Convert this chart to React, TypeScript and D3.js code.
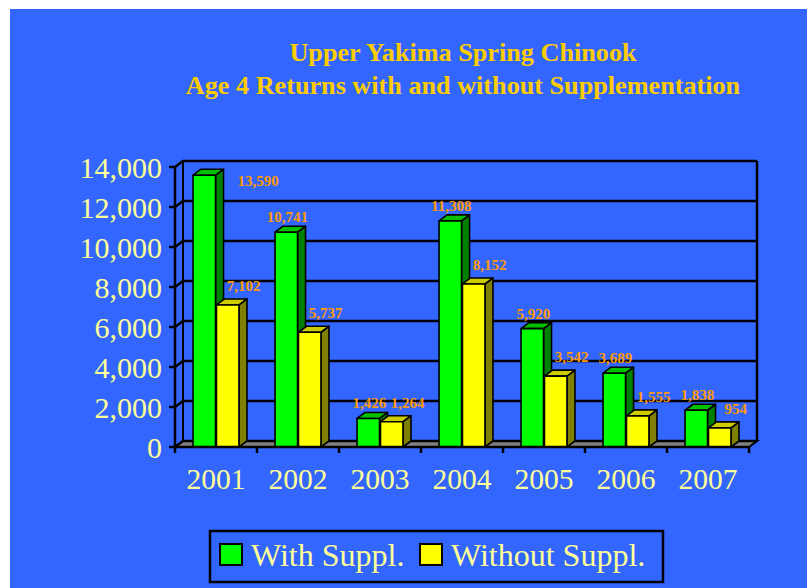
import * as d3 from 'd3';
import React from 'react';

const years = ['2001', '2002', '2003', '2004', '2005', '2006', '2007'];
const withSuppl = [13590, 10741, 1426, 11308, 5920, 3689, 1838];
const withoutSuppl = [7102, 5737, 1264, 8152, 3542, 1555, 954];
const seriesNames = ['With Suppl.', 'Without Suppl.'];
const yTicks = [0, 2000, 4000, 6000, 8000, 10000, 12000, 14000];

const W = 807;
const H = 588;
const left = 175;
const right = 749;
const base = 447;
const top = 167;
const dx = 8;
const dy = -6;
const font = 'Liberation Serif, Times New Roman, serif';

const colors = [
  { front: '#00FF00', top: '#00C000', side: '#008000' },
  { front: '#FFFF00', top: '#CCCC00', side: '#808000' },
];

export default function App() {
  const x = d3.scaleBand().domain(years).range([left, right]);
  const bw = x.bandwidth();
  const sub = d3
    .scaleBand()
    .domain(seriesNames)
    .range([bw * 0.22, bw * 0.78])
    .paddingInner(0.04);
  const y = d3.scaleLinear().domain([0, 14000]).range([base, top]);
  const fmt = d3.format(',');
  const data = [withSuppl, withoutSuppl];

  const bars: any[] = [];
  const labels: any[] = [];
  years.forEach((yr, i) => {
    data.forEach((vals, s) => {
      const v = vals[i];
      const x0 = (x(yr) || 0) + (sub(seriesNames[s]) || 0);
      const w = sub.bandwidth();
      const t = y(v);
      const c = colors[s];
      bars.push(
        <g key={yr + s} stroke="#000" strokeWidth={1.6} strokeLinejoin="round">
          <path
            d={`M${x0 + w},${t} L${x0 + w + dx},${t + dy} L${x0 + w + dx},${base + dy} L${x0 + w},${base} Z`}
            fill={c.side}
          />
          <path
            d={`M${x0},${t} L${x0 + dx},${t + dy} L${x0 + w + dx},${t + dy} L${x0 + w},${t} Z`}
            fill={c.top}
          />
          <rect x={x0} y={t} width={w} height={base - t} fill={c.front} />
        </g>
      );
      let lx = x0 + w / 2 + (s === 0 ? 1 : 16);
      let ly = t - (s === 0 ? 10 : 14);
      let anchor = 'middle';
      if (ly < top + 14) {
        // no room above: put it beside the bar
        lx = x0 + w + dx + 14;
        ly = t + 11;
        anchor = 'start';
      }
      labels.push(
        <text
          key={'l' + yr + s}
          x={lx}
          y={ly}
          textAnchor={anchor}
          fontFamily={font}
          fontWeight="bold"
          fontSize={15}
          fill="#FF9900"
        >
          {fmt(v)}
        </text>
      );
    });
  });

  return (
    <svg
      width={W}
      height={H}
      style={{ position: 'absolute', left: 0, top: 0 }}
    >
      <rect x={0} y={0} width={W} height={H} fill="#fff" />
      <rect x={10} y={9} width={W - 10} height={H - 9} fill="#3366FF" />

      <text x={463} y={61} textAnchor="middle" fontFamily={font} fontWeight="bold" fontSize={26.2} fill="#FFCC00">
        Upper Yakima Spring Chinook
      </text>
      <text x={463} y={94} textAnchor="middle" fontFamily={font} fontWeight="bold" fontSize={26.2} fill="#FFCC00">
        Age 4 Returns with and without Supplementation
      </text>

      {/* floor */}
      <path
        d={`M${left},${base} L${left + dx},${base + dy} L${right + dx},${base + dy} L${right},${base} Z`}
        fill="#808080"
        stroke="#000"
        strokeWidth={2}
      />

      {/* gridlines on side and back wall */}
      {yTicks.map((t) => (
        <path
          key={'g' + t}
          d={`M${left},${y(t)} L${left + dx},${y(t) + dy} L${right + dx},${y(t) + dy}`}
          fill="none"
          stroke="#000"
          strokeWidth={2.5}
        />
      ))}
      <line x1={left + dx} x2={left + dx} y1={top + dy} y2={base + dy} stroke="#000" strokeWidth={2} />
      <line x1={right + dx} x2={right + dx} y1={top + dy} y2={base + dy} stroke="#000" strokeWidth={2.5} />

      {bars}

      {/* front axes */}
      <line x1={left} x2={left} y1={top} y2={base} stroke="#000" strokeWidth={2.5} />
      <line x1={left} x2={right} y1={base} y2={base} stroke="#000" strokeWidth={2.5} />
      {yTicks.map((t) => (
        <g key={'yt' + t}>
          <line x1={left - 6} x2={left} y1={y(t)} y2={y(t)} stroke="#000" strokeWidth={2.5} />
          <text
            x={left - 13}
            y={y(t)}
            dy="0.35em"
            textAnchor="end"
            fontFamily={font}
            fontSize={30}
            fill="#FFFF99"
          >
            {fmt(t)}
          </text>
        </g>
      ))}
      {years.map((yr) => (
        <g key={'xt' + yr}>
          <line
            x1={x(yr) || 0}
            x2={x(yr) || 0}
            y1={base}
            y2={base + 6}
            stroke="#000"
            strokeWidth={2.5}
          />
          <text
            x={(x(yr) || 0) + bw / 2}
            y={489}
            textAnchor="middle"
            fontFamily={font}
            fontSize={29.5}
            fill="#FFFF99"
          >
            {yr}
          </text>
        </g>
      ))}
      <line x1={right} x2={right} y1={base} y2={base + 6} stroke="#000" strokeWidth={2.5} />

      {labels}

      {/* legend */}
      <rect x={210} y={531} width={453} height={51} fill="none" stroke="#000" strokeWidth={2.5} />
      {seriesNames.map((n, s) => {
        const lx = s === 0 ? 220 : 420;
        return (
          <g key={'lg' + n}>
            <rect x={lx} y={544} width={22} height={21} fill={colors[s].front} stroke="#000" strokeWidth={2} />
            <text x={lx + 31} y={566} fontFamily={font} fontSize={32} fill="#FFFF99">
              {n}
            </text>
          </g>
        );
      })}
    </svg>
  );
}
